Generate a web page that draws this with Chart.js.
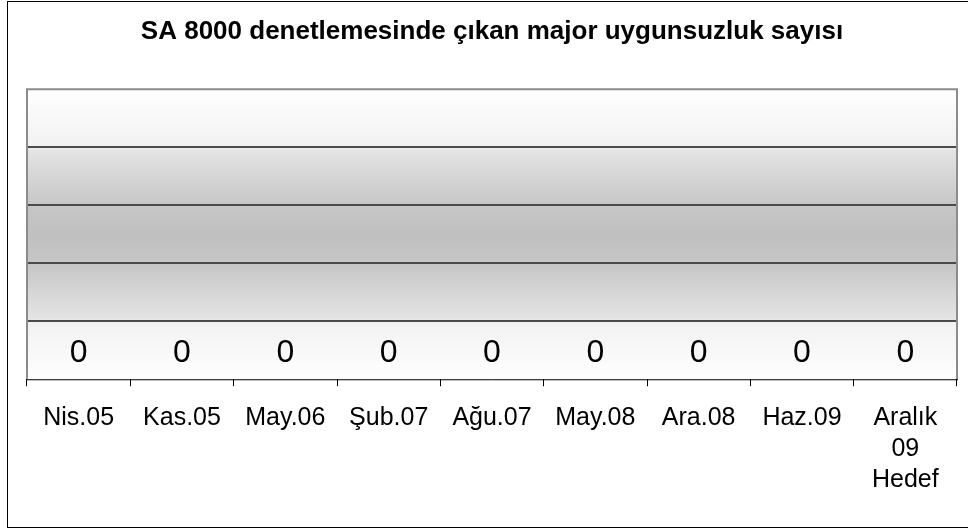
<!DOCTYPE html>
<html>
<head>
<meta charset="utf-8">
<script src="https://cdn.jsdelivr.net/npm/chart.js@4/dist/chart.umd.min.js"></script>
<style>
  html, body { margin: 0; padding: 0; background: #fff; }
  #wrap { position: relative; width: 968px; height: 529px; }
</style>
</head>
<body>
<div id="wrap"><canvas id="myChart" width="968" height="529"></canvas></div>
<script>
// SA 8000 major nonconformities per audit

const titleText = 'SA 8000 denetlemesinde çıkan major uygunsuzluk sayısı';
const labels = ['Nis.05', 'Kas.05', 'May.06', 'Şub.07', 'Ağu.07', 'May.08', 'Ara.08', 'Haz.09', ['Aralık', '09', 'Hedef']];
const majorCounts = [0, 0, 0, 0, 0, 0, 0, 0, 0];
const yTicks = [0, 1, 2, 3, 4, 5];

const fontFamily = '"Liberation Sans", Arial, sans-serif';

// outer frame + gradient plot background
const frame = {
    id: 'frame',
    beforeDraw(chart) {
        const ctx = chart.ctx;
        const a = chart.chartArea;
        ctx.save();
        ctx.fillStyle = '#fff';
        ctx.fillRect(0, 0, chart.width, chart.height);
        ctx.strokeStyle = '#000';
        ctx.lineWidth = 1;
        ctx.strokeRect(7.5, 1.5, chart.width + 10, chart.height - 3);

        let g = ctx.createLinearGradient(0, a.top, 0, a.bottom);
        g.addColorStop(0, '#ffffff');
        g.addColorStop(0.2, '#f1f1f1');
        g.addColorStop(0.21, '#e4e4e4');
        g.addColorStop(0.4, '#c6c6c6');
        g.addColorStop(0.5, '#c0c0c0');
        g.addColorStop(0.6, '#c6c6c6');
        g.addColorStop(0.79, '#e4e4e4');
        g.addColorStop(0.8, '#f1f1f1');
        g.addColorStop(1, '#ffffff');
        ctx.fillStyle = g;
        ctx.fillRect(a.left, a.top, a.right - a.left, a.bottom - a.top);
        ctx.restore();
    },
    afterDraw(chart) {
        const ctx = chart.ctx;
        const a = chart.chartArea;
        ctx.save();
        ctx.strokeStyle = '#8c8c8c';
        ctx.lineWidth = 2;
        ctx.beginPath();
        ctx.moveTo(a.left, a.bottom);
        ctx.lineTo(a.left, a.top);
        ctx.lineTo(a.right, a.top);
        ctx.lineTo(a.right, a.bottom);
        ctx.stroke();
        ctx.strokeStyle = '#000';
        ctx.lineWidth = 1;
        ctx.beginPath();
        ctx.moveTo(a.left, a.bottom + 0.5);
        ctx.lineTo(a.right + 1, a.bottom + 0.5);
        ctx.stroke();
        ctx.restore();
    }
};

// value labels above the bars
const valueLabels = {
    id: 'valueLabels',
    afterDatasetsDraw(chart) {
        const ctx = chart.ctx;
        const meta = chart.getDatasetMeta(0);
        const yScale = chart.scales.y;
        ctx.save();
        ctx.font = '32px ' + fontFamily;
        ctx.fillStyle = '#000';
        ctx.textAlign = 'center';
        ctx.textBaseline = 'middle';
        meta.data.forEach((bar, i) => {
            const v = chart.data.datasets[0].data[i];
            ctx.fillText(String(v), bar.x, yScale.getPixelForValue(v) - 26);
        });
        ctx.restore();
    }
};

let ctx = document.getElementById('myChart').getContext('2d');
let myChart = new Chart(ctx, {
    type: 'bar',
    data: {
        labels: labels,
        datasets: [{
            label: 'Major uygunsuzluk',
            data: majorCounts,
            backgroundColor: '#9999ff',
            borderColor: '#000',
            borderWidth: 1
        }]
    },
    options: {
        responsive: false,
        animation: false,
        layout: { padding: { left: 27, right: 11, top: 0, bottom: 17 } },
        plugins: {
            legend: { display: false },
            tooltip: { enabled: false },
            title: {
                display: true,
                text: titleText,
                color: '#000',
                font: { family: fontFamily, size: 26, weight: 'bold', lineHeight: 1.2 },
                padding: { top: 16, bottom: 42 }
            }
        },
        scales: {
            x: {
                grid: {
                    offset: true,
                    drawOnChartArea: false,
                    drawTicks: true,
                    tickLength: 7,
                    color: '#000'
                },
                border: { display: false },
                ticks: {
                    color: '#000',
                    maxRotation: 0,
                    autoSkip: false,
                    padding: 16,
                    font: { family: fontFamily, size: 25, lineHeight: 1.25 }
                }
            },
            y: {
                min: yTicks[0],
                max: yTicks[yTicks.length - 1],
                afterBuildTicks(scale) {
                    scale.ticks = yTicks.map(v => ({ value: v }));
                },
                ticks: { display: false },
                border: { display: false },
                grid: {
                    drawTicks: false,
                    lineWidth: 2,
                    color: c => (c.tick.value === 0 || c.tick.value === 5) ? 'rgba(0,0,0,0)' : '#4a4a4a'
                }
            }
        }
    },
    plugins: [frame, valueLabels]
});
</script>
</body>
</html>
